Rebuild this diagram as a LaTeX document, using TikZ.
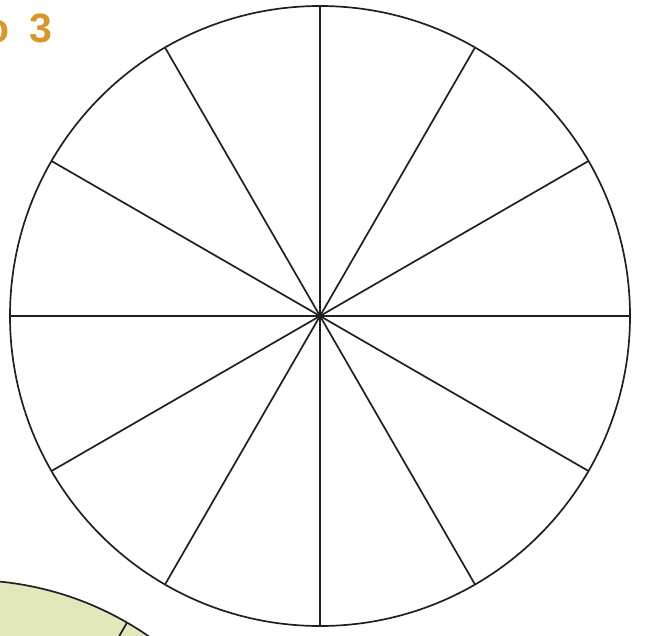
\documentclass[tikz,border=0pt]{standalone}
\usepackage{fontspec}
\setsansfont{Liberation Sans}
\usetikzlibrary{calc}
\definecolor{WheelInk}{HTML}{231F20}
\definecolor{WheelFill}{HTML}{E4E6BC}
\definecolor{StepGold}{HTML}{D6982B}

\tikzset{
  wheelline/.style={draw=WheelInk, line width=1.7pt},
  steptext/.style={font=\sffamily\bfseries\fontsize{41}{46}\selectfont, text=StepGold, inner sep=0pt}
}

\begin{document}
\begin{tikzpicture}[x=1pt, y=-1pt]
  \useasboundingbox (0,0) rectangle (647,635);
  \clip (0,0) rectangle (647,635);
  % next wheel, peeking in at the corner
  \coordinate (hubb) at (-32,898);
  \draw[wheelline, fill=WheelFill] (hubb) circle (318);
  \foreach \a in {0,30,...,330}
    \draw[wheelline] (hubb) -- ++(\a:318);
  % main wheel
  \coordinate (hub) at (320,316);
  \draw[wheelline] (hub) circle (310);
  \foreach \a in {0,30,...,330}
    \draw[wheelline] (hub) -- ++(\a:310);
  \node[steptext, anchor=base west] (steplabel) at (-16,42) {o\hspace{20pt}3};
\end{tikzpicture}
\end{document}
